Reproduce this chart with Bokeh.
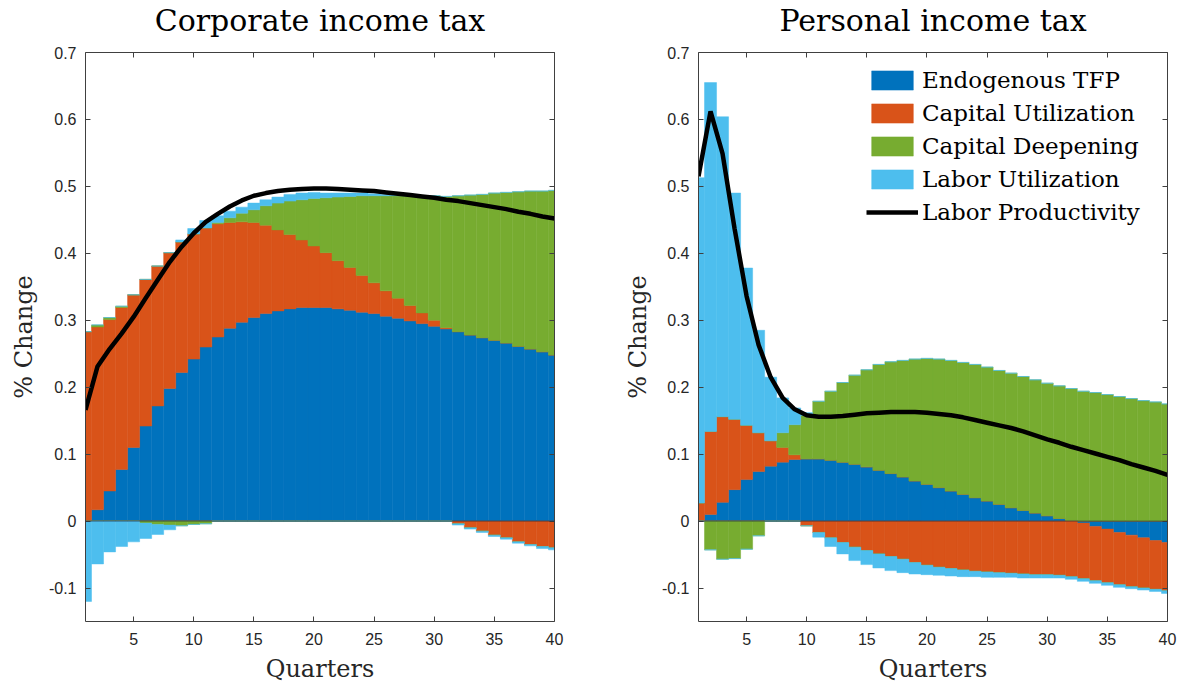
from bokeh.plotting import figure
from bokeh.models import (ColumnDataSource, LinearAxis, FixedTicker, CustomJSTickFormatter,
                          Legend, LegendItem, Span, Range1d, CustomLabelingPolicy)
from bokeh.layouts import row
from bokeh.embed import file_html
from bokeh.resources import INLINE

# ---------------- data ----------------
quarters = list(range(1, 41))
series_names = ["Endogenous TFP", "Capital Utilization", "Capital Deepening", "Labor Utilization"]
line_name = "Labor Productivity"
titles = ["Corporate income tax", "Personal income tax"]
x_ticks = [5, 10, 15, 20, 25, 30, 35, 40]
y_ticks = [-0.1, 0.0, 0.1, 0.2, 0.3, 0.4, 0.5, 0.6, 0.7]

# Corporate income tax
corp_tfp = [0.000, 0.017, 0.045, 0.077, 0.110, 0.142, 0.172, 0.198, 0.222, 0.242,
            0.260, 0.275, 0.288, 0.297, 0.304, 0.310, 0.314, 0.317, 0.319, 0.319,
            0.319, 0.317, 0.315, 0.312, 0.310, 0.306, 0.303, 0.299, 0.295, 0.291,
            0.287, 0.283, 0.278, 0.274, 0.270, 0.266, 0.261, 0.257, 0.253, 0.248]
corp_cu = [0.283, 0.273, 0.256, 0.242, 0.228, 0.219, 0.209, 0.203, 0.195, 0.187,
           0.178, 0.169, 0.158, 0.150, 0.142, 0.132, 0.121, 0.111, 0.101, 0.092,
           0.082, 0.072, 0.064, 0.055, 0.046, 0.038, 0.030, 0.023, 0.016, 0.009,
           0.002, -0.004, -0.010, -0.015, -0.021, -0.025, -0.031, -0.035, -0.038, -0.040]
corp_cd = [0.000, 0.003, 0.003, 0.002, 0.000, -0.003, -0.005, -0.006, -0.007, -0.005,
           -0.004, 0.002, 0.007, 0.013, 0.019, 0.029, 0.040, 0.050, 0.060, 0.071,
           0.082, 0.095, 0.106, 0.119, 0.130, 0.142, 0.153, 0.164, 0.175, 0.186,
           0.196, 0.203, 0.209, 0.214, 0.220, 0.225, 0.231, 0.236, 0.240, 0.246]
corp_lu = [-0.120, -0.064, -0.046, -0.038, -0.031, -0.023, -0.015, -0.007, 0.003, 0.008,
           0.011, 0.010, 0.010, 0.009, 0.010, 0.009, 0.009, 0.010, 0.010, 0.009,
           0.007, 0.006, 0.005, 0.004, 0.003, 0.002, 0.001, 0.000, 0.000, 0.000,
           0.000, -0.002, -0.002, -0.002, -0.002, -0.002, -0.002, -0.002, -0.003, -0.003]
corp_lp = [0.166, 0.231, 0.257, 0.280, 0.305, 0.333, 0.360, 0.387, 0.410, 0.430,
           0.447, 0.459, 0.470, 0.479, 0.486, 0.490, 0.493, 0.495, 0.496, 0.497,
           0.497, 0.496, 0.495, 0.494, 0.493, 0.491, 0.489, 0.487, 0.485, 0.483,
           0.480, 0.478, 0.475, 0.472, 0.469, 0.466, 0.462, 0.459, 0.455, 0.452]

# Personal income tax
pers_tfp = [0.000, 0.010, 0.028, 0.047, 0.062, 0.074, 0.082, 0.088, 0.092, 0.093,
            0.093, 0.091, 0.088, 0.085, 0.081, 0.076, 0.071, 0.066, 0.060, 0.055,
            0.050, 0.045, 0.040, 0.035, 0.030, 0.025, 0.020, 0.016, 0.012, 0.008,
            0.004, 0.001, -0.003, -0.008, -0.012, -0.017, -0.021, -0.025, -0.029, -0.032]
pers_cu = [0.027, 0.124, 0.128, 0.105, 0.081, 0.058, 0.038, 0.022, 0.007, -0.007,
           -0.017, -0.025, -0.032, -0.039, -0.044, -0.049, -0.053, -0.057, -0.062, -0.066,
           -0.069, -0.071, -0.073, -0.075, -0.076, -0.077, -0.078, -0.079, -0.080, -0.080,
           -0.081, -0.083, -0.083, -0.081, -0.080, -0.078, -0.077, -0.075, -0.073, -0.072]
pers_cd = [0.000, -0.043, -0.057, -0.056, -0.042, -0.022, 0.000, 0.022, 0.045, 0.065,
           0.086, 0.103, 0.119, 0.133, 0.145, 0.158, 0.167, 0.174, 0.182, 0.188,
           0.192, 0.195, 0.197, 0.199, 0.200, 0.200, 0.201, 0.200, 0.199, 0.198,
           0.198, 0.197, 0.194, 0.192, 0.189, 0.186, 0.183, 0.180, 0.178, 0.175]
pers_lu = [0.486, 0.521, 0.448, 0.338, 0.235, 0.153, 0.095, 0.052, 0.025, 0.004,
           -0.007, -0.013, -0.017, -0.020, -0.021, -0.021, -0.021, -0.020, -0.017, -0.014,
           -0.012, -0.011, -0.010, -0.008, -0.008, -0.007, -0.006, -0.006, -0.005, -0.005,
           -0.004, -0.004, -0.004, -0.004, -0.004, -0.004, -0.003, -0.003, -0.003, -0.004]
pers_lp = [0.515, 0.612, 0.549, 0.437, 0.336, 0.263, 0.215, 0.184, 0.167, 0.158,
           0.156, 0.156, 0.157, 0.159, 0.161, 0.162, 0.163, 0.163, 0.163, 0.162,
           0.160, 0.158, 0.155, 0.151, 0.147, 0.143, 0.139, 0.134, 0.128, 0.122,
           0.117, 0.111, 0.106, 0.101, 0.096, 0.091, 0.085, 0.080, 0.075, 0.069]

# ---------------- style ----------------
COLORS = ["#0072BD", "#D95319", "#77AC30", "#4DBEEE"]
SERIF = "DejaVu Serif"
SANS = "Liberation Sans"
AX = "#404040"
TXT = "#262626"

NO_LABELS = CustomLabelingPolicy(
    code="for (let i = 0; i < indices.size; i++) { indices.unset(i) } return indices")


def style_axis(ax, show_labels):
    ax.axis_line_color = AX
    ax.major_tick_line_color = AX
    ax.major_tick_in = 5
    ax.major_tick_out = 0
    ax.minor_tick_line_color = None
    ax.major_label_text_font = SANS
    ax.major_label_text_color = TXT
    ax.major_label_text_font_size = "16px"
    if not show_labels:
        ax.major_label_policy = NO_LABELS
        ax.major_label_standoff = 0


def make_panel(title, series, lp, border_left, border_right, ylab_standoff, with_legend):
    p = figure(frame_width=469, frame_height=569,
               x_range=Range1d(1, 40), y_range=Range1d(-0.15, 0.7),
               output_backend="svg", toolbar_location=None,
               min_border_left=border_left, min_border_right=border_right,
               min_border_top=44, min_border_bottom=50,
               outline_line_color=None, background_fill_color="white",
               border_fill_color="white")
    p.title.text = title
    p.title.text_font = SERIF
    p.title.text_font_size = "30px"
    p.title.text_font_style = "normal"
    p.title.text_color = "black"
    p.title.align = "center"
    p.title.standoff = 0

    p.xgrid.grid_line_color = None
    p.ygrid.grid_line_color = None

    p.xaxis.ticker = FixedTicker(ticks=x_ticks)
    p.yaxis.ticker = FixedTicker(ticks=y_ticks)
    p.yaxis.formatter = CustomJSTickFormatter(
        code="return Math.abs(tick) < 1e-9 ? '0' : tick.toFixed(1);")
    style_axis(p.xaxis[0], True)
    style_axis(p.yaxis[0], True)
    p.xaxis.major_label_standoff = 11
    p.yaxis.major_label_standoff = 9
    p.xaxis.axis_label = "Quarters"
    p.yaxis.axis_label = "% Change"
    for ax in (p.xaxis[0], p.yaxis[0]):
        ax.axis_label_text_font = SERIF
        ax.axis_label_text_font_size = "24px"
        ax.axis_label_text_font_style = "normal"
        ax.axis_label_text_color = TXT
    p.xaxis.axis_label_standoff = 7
    p.yaxis.axis_label_standoff = ylab_standoff

    top = LinearAxis(ticker=FixedTicker(ticks=x_ticks))
    style_axis(top, False)
    p.add_layout(top, "above")
    right = LinearAxis(ticker=FixedTicker(ticks=y_ticks))
    style_axis(right, False)
    p.add_layout(right, "right")

    # stacked bars: positives and negatives stacked separately
    pos_cum = [0.0] * len(quarters)
    neg_cum = [0.0] * len(quarters)
    legend_renderers = []
    for vals, color in zip(series, COLORS):
        pb, pt, nb, nt = [], [], [], []
        for i, v in enumerate(vals):
            pv = max(v, 0.0)
            nv = min(v, 0.0)
            pb.append(pos_cum[i]); pt.append(pos_cum[i] + pv); pos_cum[i] += pv
            nt.append(neg_cum[i]); nb.append(neg_cum[i] + nv); neg_cum[i] += nv
        src_p = ColumnDataSource(dict(x=quarters, bottom=pb, top=pt))
        src_n = ColumnDataSource(dict(x=quarters, bottom=nb, top=nt))
        r1 = p.vbar(x="x", width=1, bottom="bottom", top="top", source=src_p,
                    fill_color=color, line_color=color, line_width=0.5)
        p.vbar(x="x", width=1, bottom="bottom", top="top", source=src_n,
               fill_color=color, line_color=color, line_width=0.5)
        legend_renderers.append(r1)

    p.add_layout(Span(location=0, dimension="width", line_color="#1f2d3d",
                      line_width=1, line_alpha=0.6))
    rl = p.line(quarters, lp, line_color="black", line_width=4.5)

    if with_legend:
        items = [LegendItem(label=n, renderers=[r]) for n, r in zip(series_names, legend_renderers)]
        items.append(LegendItem(label=line_name, renderers=[rl]))
        leg = Legend(items=items, location=(168, 396),
                     label_text_font=SERIF, label_text_font_size="23px",
                     label_text_color="black",
                     glyph_width=52, glyph_height=24, spacing=7,
                     label_standoff=4, padding=6, margin=0,
                     border_line_color=None, background_fill_alpha=0.0)
        p.add_layout(leg)
    return p


p1 = make_panel(titles[0], [corp_tfp, corp_cu, corp_cd, corp_lu], corp_lp, 85, 35, 8, False)
p2 = make_panel(titles[1], [pers_tfp, pers_cu, pers_cd, pers_lu], pers_lp, 109, 6, 7, True)

layout = row(p1, p2)
open("out.html", "w").write(file_html(layout, INLINE))
